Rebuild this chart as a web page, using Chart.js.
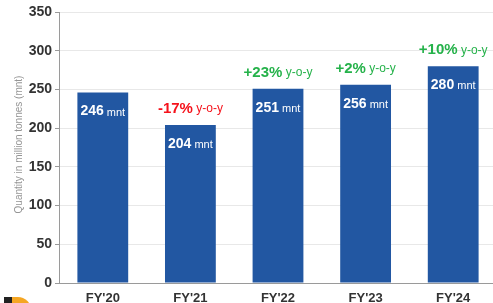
<!DOCTYPE html>
<html>
<head>
<meta charset="utf-8">
<script src="https://cdn.jsdelivr.net/npm/chart.js@4/dist/chart.umd.min.js"></script>
<style>
  html, body { margin: 0; padding: 0; background: #fff; overflow: hidden; }
  #wrap { width: 493px; height: 303px; overflow: hidden; }
</style>
</head>
<body>
<div id="wrap"><canvas id="myChart" width="497" height="303"></canvas></div>
<script>
// data
const years = ["FY'20", "FY'21", "FY'22", "FY'23", "FY'24"]
const quantity = [246, 204, 251, 256, 280]
const growth = [null, "-17%", "+23%", "+2%", "+10%"]
const yTitle = 'Quantity in million tonnes (mnt)'

const ctx = document.getElementById('myChart')

// value labels inside bars + y-o-y notes above bars
const barText = {
    id: 'barText',
    afterDatasetsDraw(chart) {
        const c = chart.ctx
        const meta = chart.getDatasetMeta(0)
        c.save()
        c.textBaseline = 'middle'
        meta.data.forEach((bar, i) => {
            // "246 mnt"
            const big = String(quantity[i])
            const small = ' mnt'
            c.font = 'bold 14px "Liberation Sans", Arial, sans-serif'
            const w1 = c.measureText(big).width
            c.font = '11px "Liberation Sans", Arial, sans-serif'
            const w2 = c.measureText(small).width
            let x = bar.x - (w1 + w2) / 2
            const y = bar.y + 19
            c.fillStyle = '#ffffff'
            c.textAlign = 'left'
            c.font = 'bold 14px "Liberation Sans", Arial, sans-serif'
            c.fillText(big, x, y)
            c.font = '11px "Liberation Sans", Arial, sans-serif'
            c.fillText(small, x + w1, y + 1)

            // growth note
            if (growth[i]) {
                const col = growth[i][0] == '-' ? '#f5121b' : '#25b24a'
                const g1 = growth[i]
                const g2 = ' y-o-y'
                c.font = 'bold 15px "Liberation Sans", Arial, sans-serif'
                const a = c.measureText(g1).width
                c.font = '12px "Liberation Sans", Arial, sans-serif'
                const b = c.measureText(g2).width
                const gx = bar.x - (a + b) / 2
                const gy = bar.y - 16
                c.fillStyle = col
                c.font = 'bold 15px "Liberation Sans", Arial, sans-serif'
                c.fillText(g1, gx, gy)
                c.font = '12px "Liberation Sans", Arial, sans-serif'
                c.fillText(g2, gx + a, gy)
            }
        })

        // y axis title
        const area = chart.chartArea
        c.translate(19, (area.top + area.bottom) / 2 - 3)
        c.rotate(-Math.PI / 2)
        c.textAlign = 'center'
        c.fillStyle = '#959595'
        c.font = '10px "Liberation Sans", Arial, sans-serif'
        c.fillText(yTitle, 0, 0)
        c.setTransform(1, 0, 0, 1, 0, 0)

        // small logo bit at bottom-left corner
        c.fillStyle = '#222222'
        c.fillRect(4, 297, 8, 6)
        c.fillStyle = '#f5a623'
        c.beginPath()
        c.moveTo(12, 297)
        c.lineTo(18, 297)
        c.arc(18, 310, 13, -Math.PI / 2, 0)
        c.lineTo(12, 310)
        c.closePath()
        c.fill()
        c.restore()
    }
}

var myChart = new Chart(ctx, {
    type: 'bar',
    data: {
        labels: years,
        datasets: [{
            data: quantity,
            backgroundColor: '#2257a2',
            barPercentage: 0.58,
            categoryPercentage: 1
        }]
    },
    options: {
        responsive: false,
        animation: false,
        devicePixelRatio: 1,
        layout: { padding: { top: 12, right: 0, left: 0, bottom: 0 } },
        plugins: {
            legend: { display: false },
            tooltip: { enabled: false }
        },
        scales: {
            x: {
                grid: { display: false, drawTicks: false },
                border: { color: '#9a9a9a', width: 1 },
                ticks: {
                    color: '#333333',
                    padding: 8,
                    font: { family: '"Liberation Sans", Arial, sans-serif', size: 13, weight: 'bold' }
                },
                afterFit: (s) => { s.height = 20 }
            },
            y: {
                min: 0,
                max: 350,
                ticks: {
                    stepSize: 50,
                    color: '#333333',
                    padding: 3,
                    font: { family: '"Liberation Sans", Arial, sans-serif', size: 14, weight: 'bold' }
                },
                grid: { color: '#e8e8e8', tickLength: 4, tickColor: '#9a9a9a' },
                border: { color: '#9a9a9a', width: 1 },
                afterFit: (s) => { s.width = 59 }
            }
        }
    },
    plugins: [barText]
})
</script>
</body>
</html>
